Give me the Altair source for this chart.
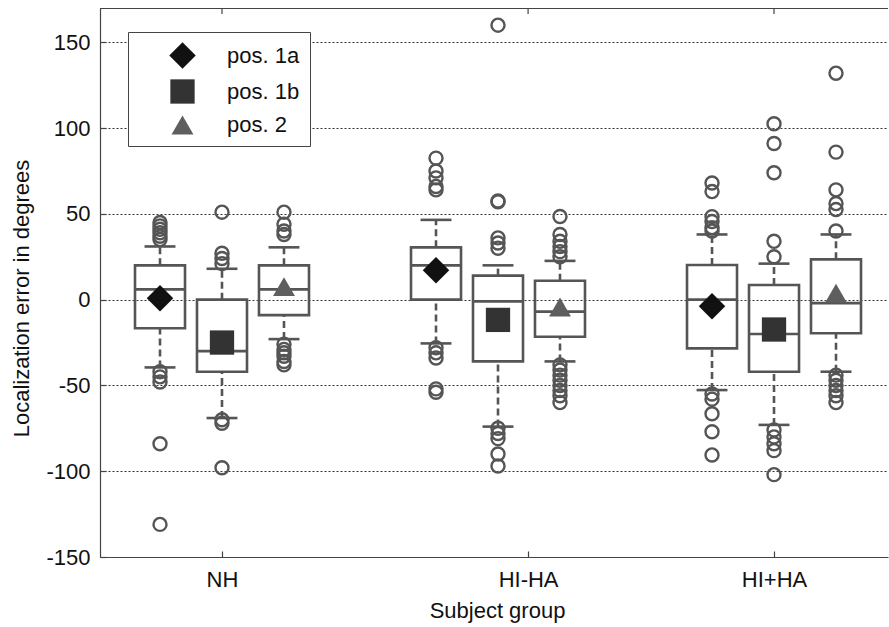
import altair as alt
import pandas as pd

groups = ["NH", "HI-HA", "HI+HA"]
positions = ["pos. 1a", "pos. 1b", "pos. 2"]
group_ticks = [1.0, 2.109, 3.0]
y_ticks = [-150, -100, -50, 0, 50, 100, 150]

# order: NH(1a,1b,2), HI-HA(1a,1b,2), HI+HA(1a,1b,2)
q1 = [-16.7, -42, -9, 0, -36, -21.6, -28.4, -42, -19.6]
median = [6, -30, 6, 20, -1, -7, 0, -20, -2]
q3 = [20, 0, 20, 30.5, 14, 11, 20.2, 8.5, 23.5]
whisker_low = [-39.5, -69, -23, -25.5, -74, -36, -52.7, -73, -42]
whisker_high = [31, 18, 30.5, 46.5, 20, 22.6, 38, 21, 38]
means = [0.8, -25, 7.6, 17.1, -11.8, -4.3, -3.9, -17.4, 3.7]
outliers = [
    [35, 37, 39, 41, 43, 45, -42, -45, -48, -84, -131],
    [51, 21, 24, 27, -70, -72, -98],
    [51, 44, 40, 38, -26, -29, -31, -33, -36, -38],
    [82.5, 75, 71, 66, 64, -28, -31, -34, -52, -54],
    [160, 57, 57.5, 36, 33, 30, -75, -78, -81, -90, -97],
    [48.5, 38, 34, 31, 28, 25, -38, -41, -44, -47, -50, -53, -56, -60],
    [68, 63, 48.4, 45.5, 42, 40, -55, -58, -66.5, -77, -90.5],
    [102.5, 91, 74, 34, 25, -76, -80, -84, -88, -102],
    [132, 86, 64, 56, 52.5, 40, -44, -47, -50, -53, -56, -60],
]

# layout (not data)
offsets = [-0.2246, 0.0, 0.2246]
box_half = 0.0906
cap_half = 0.056

rows, orows = [], []
for gi, g in enumerate(groups):
    for pi, p in enumerate(positions):
        k = gi * 3 + pi
        xc = gi + 1 + offsets[pi]
        rows.append(dict(group=g, pos=p, x=xc, xl=xc - box_half, xr=xc + box_half,
                         cl=xc - cap_half, cr=xc + cap_half,
                         q1=q1[k], med=median[k], q3=q3[k],
                         lo=whisker_low[k], hi=whisker_high[k], mean=means[k]))
        for v in outliers[k]:
            orows.append(dict(x=xc, v=v))
df = pd.DataFrame(rows)
odf = pd.DataFrame(orows)
tdf = pd.DataFrame({"t": group_ticks})

FONT = "Liberation Sans"
BOXC = "#555555"
AXC = "#444444"
xscale = alt.Scale(domain=[0.558, 3.413], nice=False, zero=False)
yscale = alt.Scale(domain=[-150, 170], nice=False, zero=False)

label_expr = ("datum.value < 1.5 ? 'NH' : (datum.value < 2.5 ? 'HI-HA' : 'HI+HA')")

bottom_axis = alt.Axis(orient="bottom", values=group_ticks, labelExpr=label_expr,
                       labelFontSize=22, labelColor="#111", labelBaseline="alphabetic",
                       labelPadding=35, ticks=True, tickSize={"expr": "-6"}, tickColor=AXC,
                       tickWidth=1.2,
                       domain=True, domainColor=AXC, domainWidth=1.2, grid=False,
                       title="Subject group", titleFontSize=22, titleFontWeight="normal",
                       titleColor="#111", titleX=397, titleY=60, titleBaseline="alphabetic",
                       titleAnchor="start", titleAlign="center")
left_axis = alt.Axis(orient="left", values=y_ticks, labelExpr="'' + datum.value",
                     labelFontSize=22, labelColor="#111",
                     labelPadding=16, ticks=True, tickSize={"expr": "-6"}, tickColor=AXC,
                     tickWidth=1.2,
                     domain=True, domainColor=AXC, domainWidth=1.2,
                     grid=True, gridDash=[2, 2], gridColor="#333", gridWidth=1,
                     title="Localization error in degrees", titleFontSize=22,
                     titleFontWeight="normal", titleColor="#111",
                     titleX=-72, titleY=290, titleAngle=-90, titleBaseline="alphabetic",
                     titleAlign="center", titleAnchor="start")

base = alt.Chart(df)

boxes = base.mark_rect(fillOpacity=0, stroke=BOXC, strokeWidth=2.6).encode(
    x=alt.X("xl:Q", scale=xscale, axis=bottom_axis),
    x2="xr:Q",
    y=alt.Y("q1:Q", scale=yscale, axis=left_axis),
    y2="q3:Q",
)
medians = base.mark_rule(stroke=BOXC, strokeWidth=2.6).encode(
    x=alt.X("xl:Q", scale=xscale), x2="xr:Q",
    y=alt.Y("med:Q", scale=yscale),
)
wh_hi = base.mark_rule(stroke=BOXC, strokeWidth=2.6, strokeDash=[7, 4]).encode(
    x=alt.X("x:Q", scale=xscale),
    y=alt.Y("q3:Q", scale=yscale), y2="hi:Q",
)
wh_lo = base.mark_rule(stroke=BOXC, strokeWidth=2.6, strokeDash=[7, 4]).encode(
    x=alt.X("x:Q", scale=xscale),
    y=alt.Y("lo:Q", scale=yscale), y2="q1:Q",
)
cap_hi = base.mark_rule(stroke=BOXC, strokeWidth=2.6).encode(
    x=alt.X("cl:Q", scale=xscale), x2="cr:Q",
    y=alt.Y("hi:Q", scale=yscale),
)
cap_lo = base.mark_rule(stroke=BOXC, strokeWidth=2.6).encode(
    x=alt.X("cl:Q", scale=xscale), x2="cr:Q",
    y=alt.Y("lo:Q", scale=yscale),
)
outl = alt.Chart(odf).mark_point(shape="circle", size=170, filled=False,
                                 stroke=BOXC, strokeWidth=2.4, opacity=1).encode(
    x=alt.X("x:Q", scale=xscale),
    y=alt.Y("v:Q", scale=yscale),
)
# top frame line and top inward ticks
top_line = alt.Chart(tdf).mark_rule(stroke=AXC, strokeWidth=1.2).encode(
    x=alt.value(0), x2=alt.value(788), y=alt.value(0.5),
)
top_ticks = alt.Chart(tdf).mark_rule(stroke=AXC, strokeWidth=1.2).encode(
    x=alt.X("t:Q", scale=xscale), y=alt.value(0), y2=alt.value(6),
)

legend = alt.Legend(orient="none", legendX=28, legendY=24, title=None,
                    symbolSize=480, labelFontSize=22, labelColor="#111",
                    padding=10, symbolOffset=31, labelOffset=31, rowPadding=10,
                    strokeColor=AXC, fillColor="white", symbolStrokeWidth=0,
                    labelFont=FONT)
mean_pts = base.mark_point(filled=True, opacity=1, strokeWidth=0).encode(
    x=alt.X("x:Q", scale=xscale),
    y=alt.Y("mean:Q", scale=yscale),
    shape=alt.Shape("pos:N", scale=alt.Scale(domain=positions,
                    range=["diamond", "square", "triangle-up"]), legend=legend),
    color=alt.Color("pos:N", scale=alt.Scale(domain=positions,
                    range=["#111111", "#333333", "#5e5e5e"]), legend=legend),
    size=alt.Size("pos:N", scale=alt.Scale(domain=positions, range=[700, 480, 850]),
                  legend=None),
)

chart = alt.layer(boxes, medians, wh_hi, wh_lo, cap_hi, cap_lo, outl, top_line, top_ticks,
                  mean_pts).properties(
    width=788, height=549,
    autosize="none",
    padding={"left": 100, "top": 8, "right": 1, "bottom": 70},
    background="white",
).configure(font=FONT).configure_view(strokeWidth=0)

chart.save("out.html", embed_options={"renderer": "svg", "actions": False})
